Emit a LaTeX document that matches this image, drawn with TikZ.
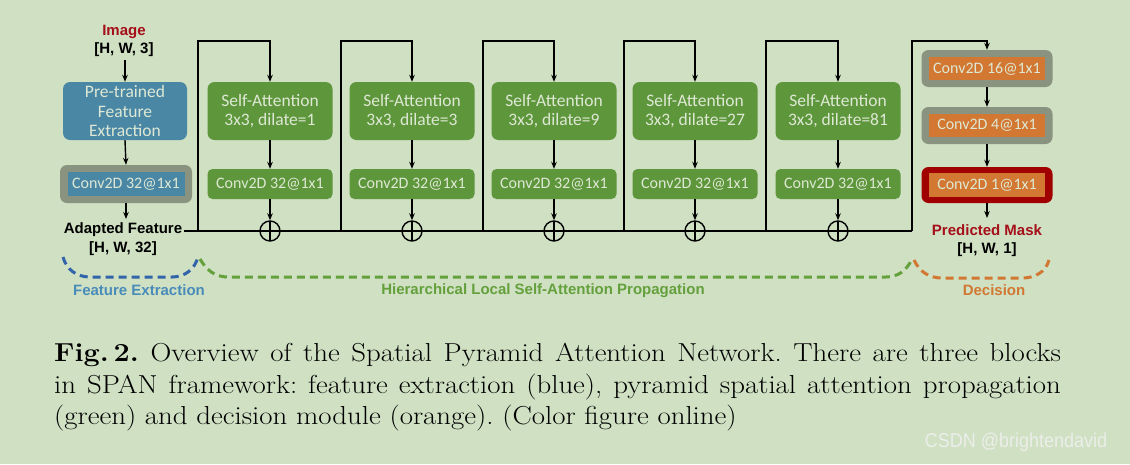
\documentclass[tikz,border=0pt]{standalone}
\usepackage{fontspec}
\newfontfamily\boxfont{Carlito}
\newfontfamily\labfont{Liberation Sans}
\usetikzlibrary{arrows.meta}
\definecolor{bgc}{RGB}{207,224,195}
\definecolor{saG}{RGB}{94,150,60}
\definecolor{feB}{RGB}{74,135,165}
\definecolor{grayO}{RGB}{138,146,128}
\definecolor{oraI}{RGB}{210,120,50}
\definecolor{redO}{RGB}{160,0,0}
\definecolor{txtL}{RGB}{222,232,212}
\definecolor{redT}{RGB}{165,15,25}
\definecolor{dashB}{RGB}{50,100,170}
\definecolor{labB}{RGB}{74,140,185}
\definecolor{dashG}{RGB}{100,160,60}
\definecolor{dashO}{RGB}{210,120,50}
\definecolor{wmk}{RGB}{236,238,234}
\tikzset{
  x=1pt, y=-1pt,
  boxtxt/.style={text=txtL, font=\boxfont\fontsize{17.5}{19.5}\selectfont, align=center, inner sep=0pt},
  convtxt/.style={text=txtL, font=\boxfont\fontsize{16}{18}\selectfont, align=center, inner sep=0pt},
  sabox/.style={boxtxt, fill=saG, rounded corners=7pt, minimum width=125pt, minimum height=58pt},
  cvbox/.style={convtxt, fill=saG, rounded corners=5pt, minimum width=125pt, minimum height=30pt},
  outerbox/.style={fill=grayO, rounded corners=7pt, minimum width=131pt, minimum height=37pt, inner sep=0pt},
  innerbox/.style={convtxt, minimum width=116pt, minimum height=23pt},
  lab/.style={font=\labfont\bfseries\fontsize{15}{18}\selectfont, inner sep=0pt},
  ln/.style={line width=1.4pt, black},
  arr/.style={ln, -{Stealth[length=7pt,width=5.5pt]}},
  oplus/.style={circle, draw=black, line width=1.4pt, minimum size=20pt, inner sep=0pt,
    path picture={\draw[line width=1.4pt] (path picture bounding box.north) -- (path picture bounding box.south)
      (path picture bounding box.west) -- (path picture bounding box.east);}},
  brk/.style={line width=3pt, dash pattern=on 8pt off 5pt},
  captxt/.style={font=\fontsize{26}{31}\selectfont\frenchspacing, anchor=base west, inner sep=0pt}
}
\begin{document}
\begin{tikzpicture}
\fill[bgc] (0,0) rectangle (1130,464);
\useasboundingbox (0,0) rectangle (1130,464);

% ---- feature extraction column
\node[lab, text=redT] (img) at (124,32) {Image};
\node[lab] (imgsz) at (124,50) {[H, W, 3]};
\node[sabox, fill=feB, minimum width=124pt] (pre) at (125,111) {Pre-trained\\Feature\\Extraction};
\node[outerbox, minimum width=132pt, minimum height=38pt] (c0) at (126,184) {};
\node[innerbox, fill=feB, minimum width=117pt, minimum height=24pt] (c0i) at (126,184) {Conv2D 32@1x1};
\node[lab] (ad) at (123,230) {Adapted Feature};
\node[lab] (adsz) at (123,249) {[H, W, 32]};
\coordinate (a0) at (125,60);
\draw[arr] (a0) -- (pre.north);
\draw[arr] (pre.south) -- (c0.north);
\coordinate (a1) at (126,219);
\draw[arr] (c0.south) -- (a1);

% ---- attention blocks
\foreach \i/\cx/\kx/\d in {1/270/198/1, 2/412/341/3, 3/554/483/9, 4/695/624/27, 5/838/766/81}{
  \node[sabox] (sa\i) at (\cx,111) {Self-Attention\\3x3, dilate=\d};
  \node[cvbox] (cv\i) at (\cx,184) {Conv2D 32@1x1};
  \node[oplus] (op\i) at (\cx,231) {};
  \coordinate (k\i) at (\kx,231);
  \coordinate (t\i) at (\kx,41);
  \draw[arr] (k\i) -- (t\i) -| (sa\i.north);
  \draw[arr] (sa\i.south) -- (cv\i.north);
  \draw[arr] (cv\i.south) -- (op\i.north);
}

% ---- decision column
\node[outerbox] (d1) at (987,68.5) {};
\node[innerbox, fill=oraI] (d1i) at (987,68.5) {Conv2D 16@1x1};
\node[outerbox] (d2) at (987,125.5) {};
\node[innerbox, fill=oraI] (d2i) at (987,125.5) {Conv2D 4@1x1};
\node[outerbox, fill=redO, minimum height=36pt] (d3) at (987,185) {};
\node[innerbox, fill=oraI, minimum height=24pt] (d3i) at (987,185) {Conv2D 1@1x1};
\node[lab, text=redT] (pm) at (987,230) {Predicted Mask};
\node[lab] (pmsz) at (987,250) {[H, W, 1]};
\coordinate (k6) at (912,231);
\coordinate (t6) at (912,41);
\draw[arr] (k6) -- (t6) -| (d1.north);
\draw[arr] (d1.south) -- (d2.north);
\draw[arr] (d2.south) -- (d3.north);
\coordinate (a2) at (987,218);
\draw[arr] (d3.south) -- (a2);

% ---- main trunk
\coordinate (m0) at (184,231);
\draw[ln] (m0) -- (k6);

% ---- brackets
\draw[brk, dashB] (63,257) to[out=-75,in=180] (90,277) -- (172,277) to[out=0,in=-105] (198,257);
\draw[brk, dashG] (200,259) to[out=-60,in=180] (228,277) -- (886,277) to[out=0,in=-115] (912,259);
\draw[brk, dashO] (914,260) to[out=-65,in=180] (942,278) -- (1022,278) to[out=0,in=-105] (1049,260);
\node[lab, text=labB] (lfe) at (139,290) {Feature Extraction};
\node[lab, text=dashG] (lhl) at (543,291) {Hierarchical Local Self-Attention Propagation};
\node[lab, text=dashO] (ldc) at (994,290) {Decision};

% ---- caption
\node[captxt] (cap1) at (54,361) {\scalebox{1.11}[1]{\makebox[907pt][s]{\textbf{Fig.\,2.} Overview of the Spatial Pyramid Attention Network. There are three blocks}}};
\node[captxt] (cap2) at (54,393) {\scalebox{1.11}[1]{\makebox[907pt][s]{in SPAN framework: feature extraction (blue), pyramid spatial attention propagation}}};
\node[captxt] (cap3) at (54,424) {\scalebox{1.11}[1]{(green) and decision module (orange). (Color figure online)}};

% ---- watermark
\node[text=wmk, font=\labfont\fontsize{20}{20}\selectfont, inner sep=0pt] (wm) at (1016,442) {\scalebox{0.9}[1]{CSDN @brightendavid}};
\end{tikzpicture}
\end{document}
